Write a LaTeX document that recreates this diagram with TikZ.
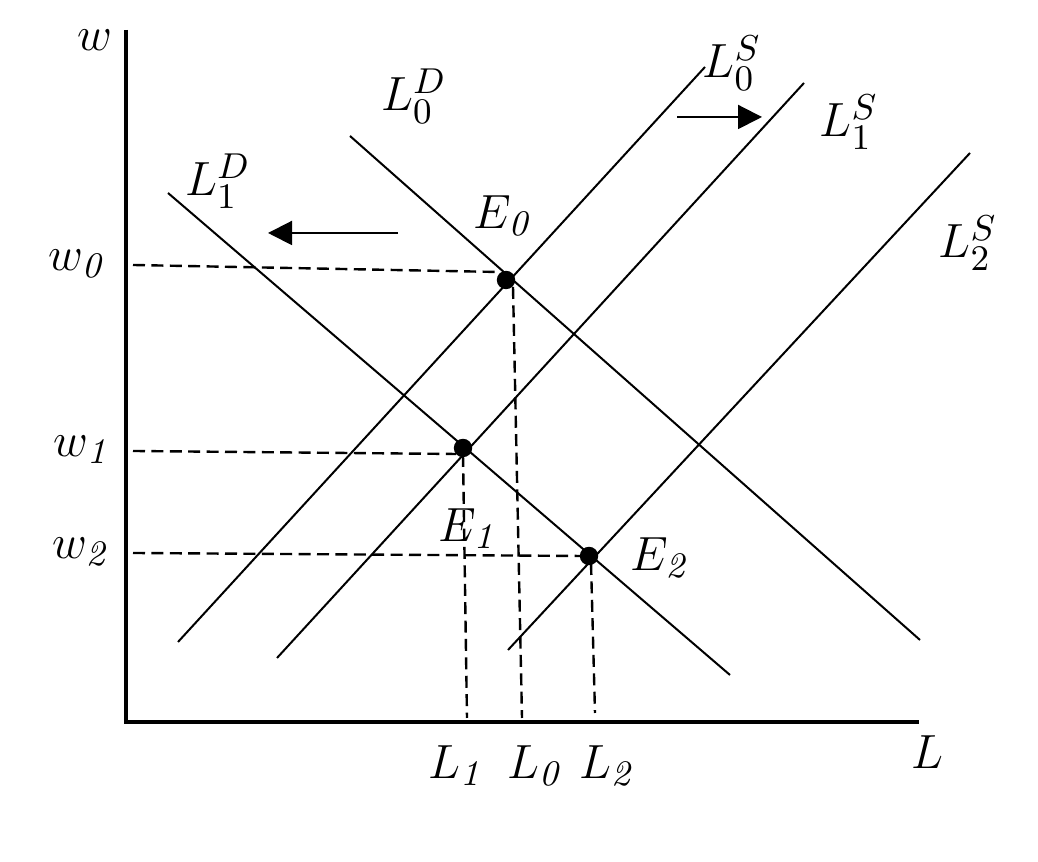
\documentclass[tikz,border=0pt]{standalone}
\usetikzlibrary{arrows.meta}
\begin{document}
\begin{tikzpicture}[x=0.25pt,y=-0.25pt,
  curve/.style={line width=0.5pt},
  axis/.style={line width=1pt},
  guide/.style={line width=0.6pt,dash pattern=on 3pt off 1.6pt},
  eqdot/.style={circle,fill=black,inner sep=0pt,minimum size=4.6pt},
  lbl/.style={inner sep=0pt,font=\fontsize{12.6}{15}\selectfont},
  shift arrow/.style={line width=0.5pt,-{Triangle[length=6pt,width=6pt]}}]
\useasboundingbox (0,0) rectangle (1038,862);
% axes
\coordinate (O) at (126,722);
\coordinate (ytop) at (126,30);
\coordinate (xend) at (919,722);
\draw[axis] (ytop) -- (O) -- (xend);
% curve end points
\coordinate (S0a) at (178,642); \coordinate (S0b) at (705,67);
\coordinate (S1a) at (277,658); \coordinate (S1b) at (804,83);
\coordinate (S2a) at (508,650); \coordinate (S2b) at (970,153);
\coordinate (D0a) at (350,136); \coordinate (D0b) at (920,640);
\coordinate (D1a) at (168,193); \coordinate (D1b) at (730,675);
\draw[curve] (S0a) -- (S0b);
\draw[curve] (S1a) -- (S1b);
\draw[curve] (S2a) -- (S2b);
\draw[curve] (D0a) -- (D0b);
\draw[curve] (D1a) -- (D1b);
% equilibria
\node[eqdot] (E0) at (506,280) {};
\node[eqdot] (E1) at (463,448) {};
\node[eqdot] (E2) at (589,556) {};
% guide lines
\coordinate (w0s) at (133,265); \coordinate (w0e) at (498,272);
\coordinate (w1s) at (133,451); \coordinate (w1e) at (456,454);
\coordinate (w2s) at (133,553); \coordinate (w2e) at (582,556);
\coordinate (L0s) at (513,287); \coordinate (L0e) at (522,718);
\coordinate (L1s) at (463,455); \coordinate (L1e) at (467,718);
\coordinate (L2s) at (591,563); \coordinate (L2e) at (595,713);
\draw[guide] (w0s) -- (w0e);
\draw[guide] (w1s) -- (w1e);
\draw[guide] (w2s) -- (w2e);
\draw[guide] (L0s) -- (L0e);
\draw[guide] (L1s) -- (L1e);
\draw[guide] (L2s) -- (L2e);
% shift arrows
\coordinate (la) at (398,233); \coordinate (lb) at (268,233);
\coordinate (ra) at (677,117); \coordinate (rb) at (762,117);
\draw[shift arrow] (la) -- (lb);
\draw[shift arrow] (ra) -- (rb);
% labels
\node[lbl] (tw) at (95,40) {$w$};
\node[lbl] (tw0) at (78,264) {$w_{\mathit{0}}$};
\node[lbl] (tw1) at (83,450) {$w_{\mathit{1}}$};
\node[lbl] (tw2) at (82,552) {$w_{\mathit{2}}$};
\node[lbl] (tL) at (927,752) {$L$};
\node[lbl] (tL1) at (457,766) {$L_{\mathit{1}}$};
\node[lbl] (tL0) at (536,766) {$L_{\mathit{0}}$};
\node[lbl] (tL2) at (608,766) {$L_{\mathit{2}}$};
\node[lbl] (tE0) at (504,216) {$E_{\mathit{0}}$};
\node[lbl] (tE1) at (469,529) {$E_{\mathit{1}}$};
\node[lbl] (tE2) at (661,558) {$E_{\mathit{2}}$};
\node[lbl] (tD0) at (414,96) {$L_0^D$};
\node[lbl] (tD1) at (218,181) {$L_1^D$};
\node[lbl] (tS0) at (732,63) {$L_0^S$};
\node[lbl] (tS1) at (849,122) {$L_1^S$};
\node[lbl] (tS2) at (968,243) {$L_2^S$};
\end{tikzpicture}
\end{document}
